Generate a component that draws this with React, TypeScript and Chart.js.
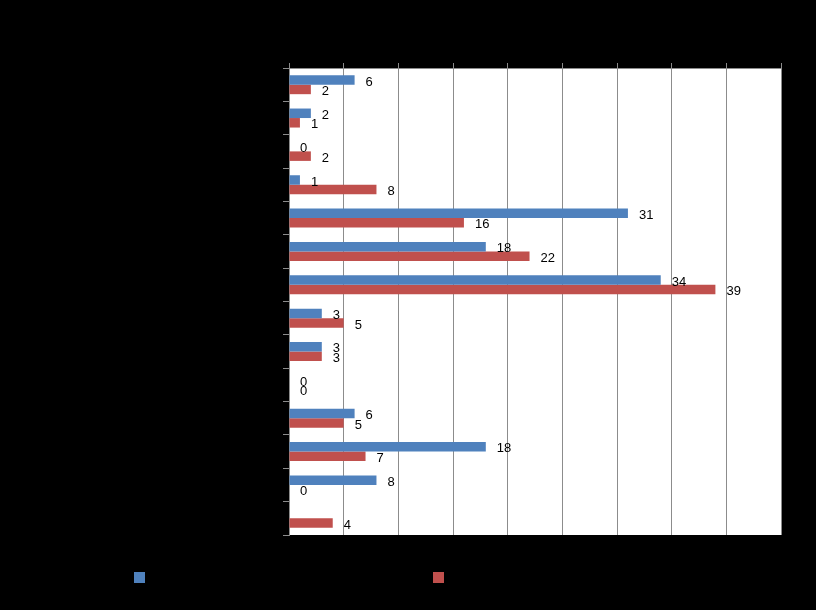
import React, { useEffect, useRef } from "react";
import { Chart, registerables } from "chart.js";

Chart.register(...registerables);

const categories = ["1", "2", "3", "4", "5", "6", "7", "8", "9", "10", "11", "12", "13", "14"];
const seriesNames = ["Series 1", "Series 2"];
const blueValues: (number | null)[] = [6, 2, 0, 1, 31, 18, 34, 3, 3, 0, 6, 18, 8, null];
const redValues: (number | null)[] = [2, 1, 2, 8, 16, 22, 39, 5, 3, 0, 5, 7, 0, 4];
const xMax = 45;
const xStep = 5;

const BLUE = "#4F81BD";
const RED = "#C0504D";
const GRID = "#8C8C8C";

const backgroundPlugin = {
  id: "bgFill",
  beforeDraw(chart: any) {
    const { ctx, chartArea } = chart;
    ctx.save();
    ctx.fillStyle = "#000000";
    ctx.fillRect(0, 0, chart.width, chart.height);
    ctx.fillStyle = "#ffffff";
    ctx.fillRect(chartArea.left, chartArea.top, chartArea.right - chartArea.left, chartArea.bottom - chartArea.top);
    ctx.restore();
  },
};

const valueLabelPlugin = {
  id: "valueLabels",
  afterDatasetsDraw(chart: any) {
    const { ctx } = chart;
    ctx.save();
    ctx.fillStyle = "#000000";
    ctx.font = "13px 'Liberation Sans', Arial, sans-serif";
    ctx.textAlign = "left";
    ctx.textBaseline = "middle";
    chart.data.datasets.forEach((ds: any, di: number) => {
      const meta = chart.getDatasetMeta(di);
      meta.data.forEach((el: any, i: number) => {
        const v = ds.data[i];
        if (v === null || v === undefined) return;
        ctx.fillText(String(v), el.x + 11, el.y + 2);
      });
    });
    ctx.restore();
  },
};

const legendPlugin = {
  id: "squareLegend",
  afterDraw(chart: any) {
    const { ctx } = chart;
    const xs = [134, 433];
    ctx.save();
    chart.data.datasets.forEach((ds: any, di: number) => {
      ctx.fillStyle = ds.backgroundColor;
      ctx.fillRect(xs[di], 572, 11, 11);
    });
    ctx.restore();
  },
};

export default function App() {
  const ref = useRef<HTMLCanvasElement | null>(null);
  useEffect(() => {
    if (!ref.current) return;
    const chart = new Chart(ref.current, {
      type: "bar",
      data: {
        labels: categories,
        datasets: [
          { label: seriesNames[0], data: blueValues, backgroundColor: BLUE, categoryPercentage: 0.57, barPercentage: 1.0 },
          { label: seriesNames[1], data: redValues, backgroundColor: RED, categoryPercentage: 0.57, barPercentage: 1.0 },
        ],
      },
      options: {
        indexAxis: "y",
        animation: false,
        responsive: false,
        maintainAspectRatio: false,
        layout: { padding: { left: 0, right: 35, top: 0, bottom: 75 } },
        plugins: {
          legend: { display: false },
          tooltip: { enabled: false },
          title: { display: false },
        },
        scales: {
          x: {
            position: "top",
            min: 0,
            max: xMax,
            ticks: { stepSize: xStep, display: false },
            grid: { color: GRID, lineWidth: 1, drawTicks: true, tickLength: 5, tickColor: GRID },
            border: { color: GRID, width: 1 },
            afterFit(scale: any) {
              scale.height = 68;
            },
          },
          y: {
            ticks: { display: false },
            grid: { drawOnChartArea: false, drawTicks: true, tickLength: 6, color: GRID, offset: true },
            border: { color: GRID, width: 1 },
            afterFit(scale: any) {
              scale.width = 289;
            },
          },
        },
      },
      plugins: [backgroundPlugin, valueLabelPlugin, legendPlugin],
    } as any);
    return () => chart.destroy();
  }, []);
  return (
    <div style={{ position: "fixed", left: 0, top: 0, width: 816, height: 610, background: "#000" }}>
      <canvas ref={ref} width={816} height={610} style={{ display: "block", width: 816, height: 610 }} />
    </div>
  );
}
